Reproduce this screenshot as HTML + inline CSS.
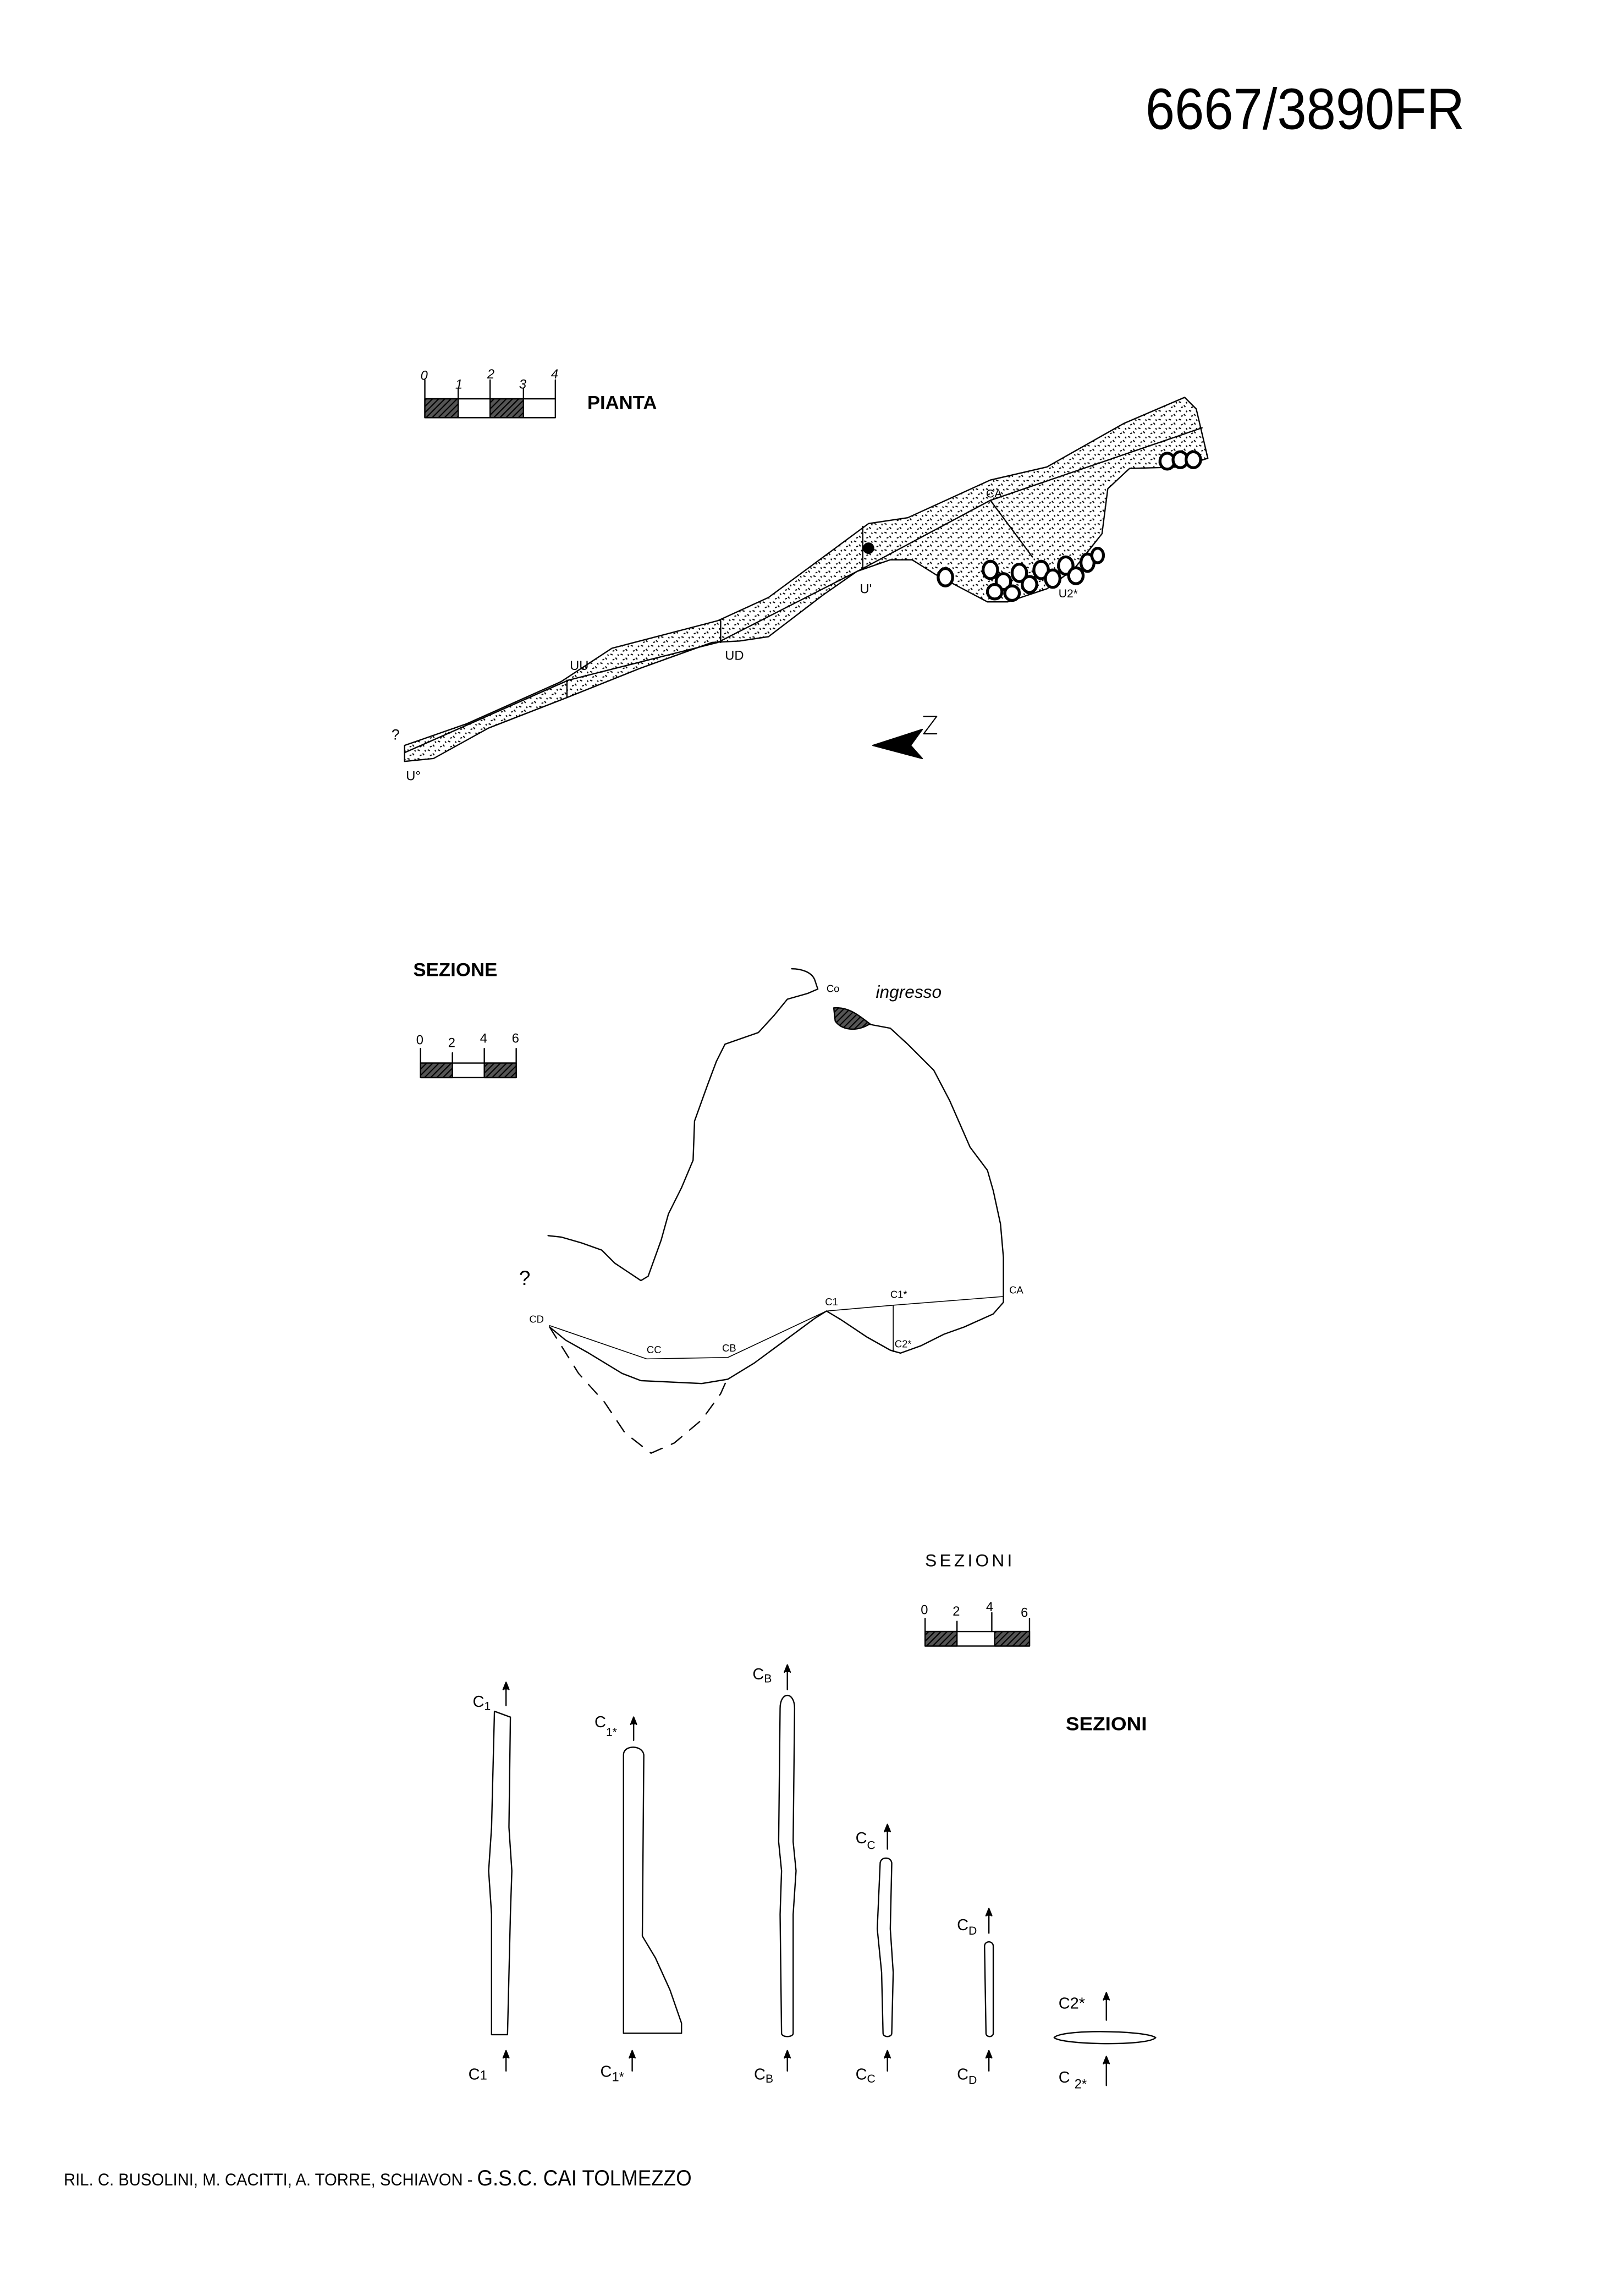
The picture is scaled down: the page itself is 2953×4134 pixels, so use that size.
<!DOCTYPE html>
<html><head><meta charset="utf-8"><style>
html,body{margin:0;padding:0;background:#fff;}
svg{display:block;}
text{font-family:"Liberation Sans",sans-serif;fill:#000;}
.h{font-family:"Liberation Sans",sans-serif;font-size:9px;}
</style></head><body>
<svg width="2953" height="4134" viewBox="0 0 1120 1568" preserveAspectRatio="none" xmlns="http://www.w3.org/2000/svg">
<defs>
<pattern id="hat" width="3" height="3" patternUnits="userSpaceOnUse" patternTransform="rotate(45)"><rect width="3" height="3" fill="#555"/><line x1="0" y1="0" x2="0" y2="3" stroke="#000" stroke-width="1.6"/></pattern>
<pattern id="dots" width="7" height="6" patternUnits="userSpaceOnUse"><path d="M1 1l1.5 0.6M4.5 3.5l1 1.2M2.5 5l1.2-0.4M6 1.2l0.6 1" stroke="#000" stroke-width="0.8"/></pattern>
</defs>
<g fill="none" stroke="#000" stroke-width="0.9" stroke-linejoin="round" stroke-linecap="round">

<!-- Title -->
<text x="790" y="89" font-family="Liberation Sans Narrow, Liberation Sans, sans-serif" font-size="40" textLength="220" lengthAdjust="spacingAndGlyphs" stroke="none">6667/3890FR</text>

<!-- PIANTA scale -->
<rect x="293" y="275" width="90" height="13"/>
<rect x="293" y="275" width="23" height="13" fill="url(#hat)"/>
<rect x="338" y="275" width="23" height="13" fill="url(#hat)"/>
<line x1="293" y1="262" x2="293" y2="275"/><line x1="316" y1="268" x2="316" y2="275"/><line x1="338" y1="262" x2="338" y2="275"/><line x1="361" y1="268" x2="361" y2="275"/><line x1="383" y1="262" x2="383" y2="275"/>
<g stroke="none" font-style="italic" class="h"><text x="290" y="262">0</text><text x="314" y="268">1</text><text x="336" y="261">2</text><text x="358" y="268">3</text><text x="380" y="261">4</text></g>
<text x="405" y="282" stroke="none" font-weight="bold" font-size="13" textLength="48" lengthAdjust="spacingAndGlyphs">PIANTA</text>

<!-- Plan -->
<path fill="url(#dots)" d="M279,514 L322,499 L387,470 L422,447 L495,428 L530,412 L599,361 L626,357 L683,331 L722,322 L775,292 L817,274 L825,282 L833,316 L814,322 L779,323 L764,337 L760,368 L741,392 L722,406 L695,415 L681,415 L645,396 L629,386 L614,386 L591,394 L568,410 L530,439 L510,442 L491,443 L441,461 L391,481 L337,502 L299,523 L279,525 Z"/>
<path d="M279,519 L392,469 L495,443 L595,392 L683,345 L829,295"/>
<line x1="391" y1="469" x2="391" y2="481"/><line x1="497" y1="428" x2="497" y2="443"/><line x1="595" y1="363" x2="595" y2="392"/>
<line x1="683" y1="345" x2="712" y2="384"/>
<circle cx="599" cy="378" r="3.5" fill="#000"/>
<g stroke-width="2" fill="#fff">
<ellipse cx="652" cy="398" rx="5" ry="6"/><ellipse cx="683" cy="393" rx="5" ry="6"/><ellipse cx="692" cy="401" rx="5" ry="5.5"/><ellipse cx="703" cy="395" rx="5" ry="6"/><ellipse cx="710" cy="403" rx="5" ry="5.5"/><ellipse cx="718" cy="393" rx="5" ry="6"/><ellipse cx="726" cy="399" rx="5" ry="6"/><ellipse cx="735" cy="390" rx="5" ry="6"/><ellipse cx="742" cy="397" rx="5" ry="5.5"/><ellipse cx="750" cy="388" rx="4.5" ry="6"/><ellipse cx="686" cy="408" rx="5" ry="5"/><ellipse cx="698" cy="409" rx="5" ry="5"/><ellipse cx="757" cy="383" rx="4" ry="5"/>
<ellipse cx="805" cy="318" rx="5" ry="5.5"/><ellipse cx="814" cy="317" rx="5" ry="5.5"/><ellipse cx="823" cy="317" rx="5" ry="5.5"/>
</g>
<g stroke="none" class="h"><text x="280" y="538">U°</text><text x="393" y="462">UU</text><text x="500" y="455">UD</text><text x="593" y="409">U'</text><text x="730" y="412" font-size="8">U2*</text><text x="680" y="343" font-size="8">CA</text><text x="270" y="510" font-size="10">?</text></g>
<path d="M602,514 L636,503 L628,514 L636,523 Z" fill="#000"/>
<path d="M637,494 L646,494 L637,506 L646,506" stroke-width="0.8"/>

<!-- SEZIONE -->
<text x="285" y="673" stroke="none" font-weight="bold" font-size="13" textLength="58" lengthAdjust="spacingAndGlyphs">SEZIONE</text>
<rect x="290" y="733" width="66" height="10"/>
<rect x="290" y="733" width="22" height="10" fill="url(#hat)"/>
<rect x="334" y="733" width="22" height="10" fill="url(#hat)"/>
<line x1="290" y1="723" x2="290" y2="733"/><line x1="312" y1="726" x2="312" y2="733"/><line x1="334" y1="723" x2="334" y2="733"/><line x1="356" y1="723" x2="356" y2="733"/>
<g stroke="none" class="h"><text x="287" y="720">0</text><text x="309" y="722">2</text><text x="331" y="719">4</text><text x="353" y="719">6</text></g>

<path d="M546,668 C552,668 560,670 562,676 L564,682 L557,685 L543,689 L534,700 L523,712 L500,720 L494,732 L488,748 L479,773 L478,800 L470,819 L461,837 L456,855 L447,880 L442,883 L424,871 L415,862 L401,857 L387,853 L378,852"/>
<path d="M598,706 L614,709 L626,720 L644,738 L655,759 L662,775 L669,791 L681,807 L685,821 L690,844 L692,867 L692,898 L685,906 L665,915 L651,920 L635,928 L621,933 L614,931 L598,922 L580,910 L570,904 L562,909 L539,926 L520,940 L502,951 L484,954 L442,952 L429,947 L406,933 L390,924 L379,915"/>
<path d="M575,695 C585,694 592,700 600,706 C590,712 580,710 576,704 Z" fill="url(#hat)"/>
<path d="M379,914 L446,937 L502,936 L570,904 L616,900 L692,894" stroke-width="0.6"/>
<line x1="616" y1="900" x2="616" y2="932" stroke-width="0.6"/>
<path d="M379,915 L399,947 L417,967 L431,988 L449,1002 L465,995 L484,979 L497,961 L501,952" stroke-dasharray="9,7"/>
<g stroke="none" font-size="7"><text x="570" y="684">Co</text><text x="365" y="912">CD</text><text x="446" y="933">CC</text><text x="498" y="932">CB</text><text x="569" y="900">C1</text><text x="614" y="895">C1*</text><text x="696" y="892">CA</text><text x="617" y="929">C2*</text></g>
<text x="604" y="688" stroke="none" font-size="12" font-style="italic">ingresso</text>
<text x="358" y="886" stroke="none" font-size="14">?</text>

<!-- SEZIONI scale -->
<text x="638" y="1080" stroke="none" font-size="12" letter-spacing="2">SEZIONI</text>
<rect x="638" y="1125" width="72" height="10"/>
<rect x="638" y="1125" width="22" height="10" fill="url(#hat)"/>
<rect x="686" y="1125" width="24" height="10" fill="url(#hat)"/>
<line x1="638" y1="1116" x2="638" y2="1125"/><line x1="660" y1="1118" x2="660" y2="1125"/><line x1="684" y1="1112" x2="684" y2="1125"/><line x1="710" y1="1116" x2="710" y2="1125"/>
<g stroke="none" class="h"><text x="635" y="1113">0</text><text x="657" y="1114">2</text><text x="680" y="1111">4</text><text x="704" y="1115">6</text></g>
<text x="735" y="1193" stroke="none" font-weight="bold" font-size="13" textLength="56" lengthAdjust="spacingAndGlyphs">SEZIONI</text>

<!-- cross sections -->
<path d="M341,1180 L352,1184 L351,1260 L353,1290 L352,1320 L350,1403 L339,1403 L339,1320 L337,1290 L339,1260 Z"/>
<path d="M430,1210 C430,1203 443,1203 444,1210 L443,1335 L452,1350 L462,1372 L470,1395 L470,1402 L430,1402 Z"/>
<path d="M538,1178 C538,1166 548,1166 548,1178 L547,1270 L549,1290 L547,1320 L547,1402 C547,1405 539,1405 539,1402 L538,1320 L539,1290 L537,1270 Z"/>
<path d="M607,1285 C607,1280 615,1280 615,1285 L614,1330 L616,1360 L615,1402 C615,1405 609,1405 609,1402 L608,1360 L605,1330 Z"/>
<path d="M679,1342 C679,1338 685,1338 685,1342 L685,1402 C685,1405 680,1405 680,1402 Z"/>
<path d="M727,1405 C732,1399 790,1400 797,1405 C792,1411 732,1410 727,1405 Z"/>
<g fill="#000">
<path d="M349,1176 L349,1160 M347,1165 L349,1160 L351,1165"/>
<path d="M437,1200 L437,1184 M435,1189 L437,1184 L439,1189"/>
<path d="M543,1165 L543,1148 M541,1153 L543,1148 L545,1153"/>
<path d="M612,1275 L612,1258 M610,1263 L612,1258 L614,1263"/>
<path d="M682,1333 L682,1316 M680,1321 L682,1316 L684,1321"/>
<path d="M763,1393 L763,1374 M761,1379 L763,1374 L765,1379"/>
<path d="M349,1428 L349,1414 M347,1419 L349,1414 L351,1419"/>
<path d="M436,1428 L436,1414 M434,1419 L436,1414 L438,1419"/>
<path d="M543,1428 L543,1414 M541,1419 L543,1414 L545,1419"/>
<path d="M612,1428 L612,1414 M610,1419 L612,1414 L614,1419"/>
<path d="M682,1428 L682,1414 M680,1419 L682,1414 L684,1419"/>
<path d="M763,1438 L763,1418 M761,1423 L763,1418 L765,1423"/>
</g>
<g stroke="none" font-size="11">
<text x="326" y="1177">C<tspan font-size="8" dy="2">1</tspan></text>
<text x="410" y="1191">C<tspan font-size="8" dy="6">1*</tspan></text>
<text x="519" y="1158">C<tspan font-size="8" dy="2">B</tspan></text>
<text x="590" y="1271">C<tspan font-size="8" dy="4">C</tspan></text>
<text x="660" y="1331">C<tspan font-size="8" dy="3">D</tspan></text>
<text x="730" y="1385">C2*</text>
<text x="323" y="1434">C<tspan font-size="9">1</tspan></text>
<text x="414" y="1432">C<tspan font-size="9" dy="3">1*</tspan></text>
<text x="520" y="1434">C<tspan font-size="8" dy="2">B</tspan></text>
<text x="590" y="1434">C<tspan font-size="8" dy="2">C</tspan></text>
<text x="660" y="1434">C<tspan font-size="8" dy="3">D</tspan></text>
<text x="730" y="1436">C <tspan font-size="9" dy="4">2*</tspan></text>
</g>

<!-- footer -->
<text x="44" y="1507" stroke="none" font-family="Liberation Sans Narrow, Liberation Sans, sans-serif" font-size="12" textLength="282" lengthAdjust="spacingAndGlyphs">RIL. C. BUSOLINI, M. CACITTI, A. TORRE, SCHIAVON -</text>
<text x="329" y="1507" stroke="none" font-family="Liberation Sans Narrow, Liberation Sans, sans-serif" font-size="15" textLength="148" lengthAdjust="spacingAndGlyphs">G.S.C. CAI TOLMEZZO</text>
</g>
</svg>
</body></html>
